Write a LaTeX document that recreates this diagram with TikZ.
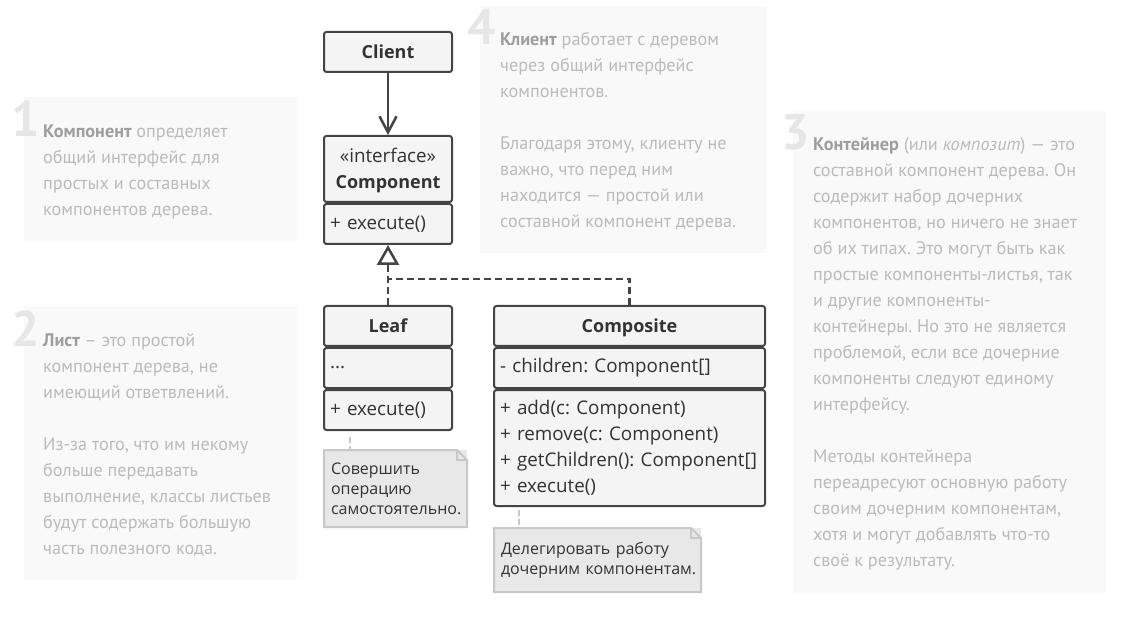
\documentclass[tikz,border=0pt]{standalone}
\usepackage{fontspec}
\setmainfont{Open Sans}
\newfontfamily\ptsans{PT Sans}
\usetikzlibrary{positioning, arrows.meta}
\definecolor{umlline}{HTML}{444444}
\definecolor{umlfill}{HTML}{F4F4F4}
\definecolor{umltext}{HTML}{333333}
\definecolor{notefill}{HTML}{E8E8E8}
\definecolor{noteline}{HTML}{C8C8C8}
\definecolor{panelfill}{HTML}{F9F9F9}
\definecolor{paneltext}{HTML}{BBBBBB}
\definecolor{panelbold}{HTML}{9E9E9E}
\definecolor{panelnum}{HTML}{E6E6E6}
\newcommand{\term}[1]{{\bfseries\color{panelbold}#1}}

\begin{document}
\begin{tikzpicture}[x=1pt, y=1pt,
    box/.style={draw=umlline, fill=umlfill, line width=2pt, rounded corners=2.5pt, inner xsep=6pt, inner ysep=0pt, text=umltext, font=\fontsize{18.8}{26}\selectfont\frenchspacing, text width=116pt, minimum height=40pt},
    head/.style={box, align=center, font=\fontsize{18}{26}\selectfont\bfseries, text height=13pt, text depth=0pt},
    part/.style={box, align=left},
    wide/.style={text width=259pt},
    assoc/.style={draw=umlline, line width=2.5pt, -{Straight Barb[length=16pt, width=17pt]}},
    realize/.style={draw=umlline, line width=2.5pt, dash pattern=on 7pt off 4pt},
    note/.style={fill=notefill, outer sep=0pt, inner xsep=7pt, inner ysep=0pt, text=umltext, align=left, anchor=north west, font=\fontsize{16}{20}\selectfont\frenchspacing},
    fold/.style={draw=noteline, line width=2pt, line join=miter},
    notelink/.style={draw=noteline, line width=2pt, dash pattern=on 6pt off 3pt},
    panel/.style={fill=panelfill},
    num/.style={anchor=base east, inner sep=0pt, text=panelnum, font=\ptsans\fontsize{50}{50}\selectfont\bfseries},
    say/.style={anchor=north west, inner sep=0pt, align=left, text=paneltext, font=\ptsans\fontsize{18.2}{26}\selectfont\frenchspacing}]

    \useasboundingbox (0,0) rectangle (1130,-628);

    \fill[panel] (24,-97) rectangle (297,-241);
    \fill[panel] (24,-306) rectangle (297,-580);
    \fill[panel] (793,-111) rectangle (1106,-593);
    \fill[panel] (480,-6) rectangle (767,-253);

    \node[num] (n1) at (40,-137) {1};
    \node[num] (n2) at (40,-346) {2};
    \node[num] (n3) at (810,-150) {3};
    \node[num] (n4) at (496,-45) {4};

    \node[say] (s1) at (43,-118.8) {\strut\term{Компонент} определяет\\общий интерфейс для\\простых и составных\\компонентов дерева.};
    \node[say] (s2) at (43,-327.8) {\strut\term{Лист} – это простой\\компонент дерева, не\\имеющий ответвлений.\\[26pt]Из-за того, что им некому\\больше передавать\\выполнение, классы листьев\\будут содержать большую\\часть полезного кода.};
    \node[say] (s3) at (813,-131.8) {\strut\term{Контейнер} (или \textit{композит}) — это\\составной компонент дерева. Он\\содержит набор дочерних\\компонентов, но ничего не знает\\об их типах. Это могут быть как\\простые компоненты-листья, так\\и другие компоненты-\\контейнеры. Но это не является\\проблемой, если все дочерние\\компоненты следуют единому\\интерфейсу.\\[26pt]Методы контейнера\\переадресуют основную работу\\своим дочерним компонентам,\\хотя и могут добавлять что-то\\своё к результату.};
    \node[say] (s4) at (500,-26.8) {\strut\term{Клиент} работает с деревом\\через общий интерфейс\\компонентов.\\[26pt]Благодаря этому, клиенту не\\важно, что перед ним\\находится — простой или\\составной компонент дерева.};

    \node[head, anchor=north west] (client) at (323,-31) {Client};

    \node[box, align=center, minimum height=66pt, anchor=north west] (comp) at (323,-135) {\strut«interface»\\\textbf{\fontsize{18}{26}\selectfont Component}};
    \node[part] (comp1) [below=0pt of comp] {+ execute()};

    \node[head, anchor=north west] (leaf) at (323,-305) {Leaf};
    \node[part] (leaf1) [below=0pt of leaf] {...};
    \node[part] (leaf2) [below=0pt of leaf1] {+ execute()};

    \node[head, wide, anchor=north west] (compo) at (493,-305) {Composite};
    \node[part, wide] (compo1) [below=0pt of compo] {\mbox{- children: Component[]}};
    \node[part, wide, minimum height=116pt] (compo2) [below=0pt of compo1] {\mbox{+ add(c: Component)}\\\mbox{+ remove(c: Component)}\\\mbox{+ getChildren(): Component[]}\\\mbox{+ execute()}};

    \node[note, minimum width=143pt, minimum height=77pt, text width=129pt] (note1) at (324,-450) {Совершить\\операцию\\\mbox{самостоятельно.}};
    \node[note, minimum width=207pt, minimum height=64pt, text width=193pt] (note2) at (494,-528) {\mbox{Делегировать работу}\\\mbox{дочерним компонентам.}};

    \draw[fold] (note1.north west) -- ([xshift=-10pt]note1.north east) -- ([yshift=-10pt]note1.north east) -- (note1.south east) -- (note1.south west) -- cycle;
    \draw[fold] ([xshift=-10pt]note1.north east) |- ([yshift=-10pt]note1.north east);
    \draw[fold] (note2.north west) -- ([xshift=-10pt]note2.north east) -- ([yshift=-10pt]note2.north east) -- (note2.south east) -- (note2.south west) -- cycle;
    \draw[fold] ([xshift=-10pt]note2.north east) |- ([yshift=-10pt]note2.north east);

    \coordinate (joint) at (388,-279);
    \draw[assoc] (client) -- (comp);
    \draw[realize, -{Triangle[open, length=20pt, width=22pt]}] (leaf) -- (comp1);
    \draw[realize] (compo) |- (joint);

    \draw[notelink] ([xshift=27pt, yshift=-6pt]leaf2.south west) -- ([xshift=26pt]note1.north west);
    \draw[notelink] ([xshift=26pt, yshift=-3pt]compo2.south west) -- ([xshift=25pt]note2.north west);
\end{tikzpicture}
\end{document}
